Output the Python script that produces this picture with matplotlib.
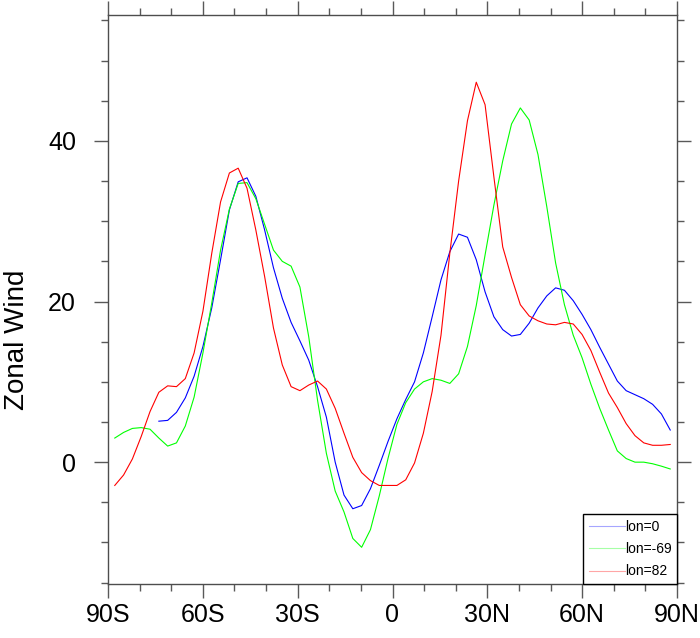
import numpy as np
import matplotlib.pyplot as plt
import matplotlib as mpl
from matplotlib.lines import Line2D

plt.rcParams["font.family"] = ["Liberation Sans", "DejaVu Sans"]

# T42 gaussian latitudes (64 rows)
lat = np.linspace(-87.86, 87.86, 64)

nan = np.nan
u_lon0 = [nan, nan, nan, nan, nan,
	5.1, 5.2, 6.2, 8.0, 10.7, 14.4, 19.2, 25.2, 31.4, 34.9,
	35.4, 33.1, 28.9, 24.2, 20.4, 17.4, 15.1, 12.7, 9.4, 5.6,
	0.0, -4.1, -5.8, -5.4, -3.3, -0.4, 2.6, 5.4, 7.8, 10.0,
	13.6, 18.1, 22.7, 26.2, 28.4, 28.0, 25.2, 21.2, 18.1, 16.5,
	15.7, 15.9, 17.3, 19.2, 20.7, 21.7, 21.4, 20.1, 18.4, 16.5,
	14.3, 12.2, 10.1, 8.9, 8.4, 7.9, 7.2, 6.0, 4.0]
u_lon_69 = [3.0, 3.7, 4.2, 4.3, 4.1, 3.0, 2.0, 2.4, 4.5, 8.1,
	13.6, 19.8, 26.4, 31.5, 34.7, 34.8, 32.8, 29.6, 26.4, 25.0,
	24.4, 21.8, 15.6, 7.7, 1.1, -3.6, -6.2, -9.5, -10.6, -8.4,
	-4.2, 0.5, 4.7, 7.4, 9.1, 10.0, 10.4, 10.2, 9.8, 11.0,
	14.4, 19.5, 25.8, 32.0, 37.5, 42.1, 44.1, 42.6, 38.3, 31.8,
	24.8, 19.6, 15.8, 13.0, 9.7, 6.7, 4.0, 1.4, 0.45, 0.0,
	0.0, -0.2, -0.5, -0.85]
u_lon82 = [-2.9, -1.6, 0.4, 3.2, 6.3, 8.7, 9.5, 9.4, 10.4, 13.6,
	18.8, 26.0, 32.4, 36.0, 36.6, 34.1, 28.9, 23.1, 16.7, 12.1,
	9.4, 8.9, 9.6, 10.1, 9.1, 6.7, 3.6, 0.6, -1.3, -2.3,
	-2.9, -2.9, -2.9, -2.2, -0.1, 3.6, 8.8, 15.8, 26.0, 35.0,
	42.5, 47.3, 44.5, 35.5, 26.8, 23.0, 19.6, 18.2, 17.6, 17.2,
	17.1, 17.4, 17.2, 15.9, 13.9, 11.2, 8.6, 6.8, 4.8, 3.3,
	2.4, 2.1, 2.1, 2.2]

labels = ["lon=0", "lon=-69", "lon=82"]
colors = ["#0000ff", "#00ff00", "#ff0000"]

xticks = [-90, -60, -30, 0, 30, 60, 90]
xticklabels = ["90S", "60S", "30S", "0", "30N", "60N", "90N"]

fig = plt.figure(figsize=(7.0, 6.38), dpi=100)
ax = fig.add_axes([108/700, 1-584/638, 569/700, 569/638])

for y, c in zip([u_lon0, u_lon_69, u_lon82], colors):
	ax.plot(lat, y, color=c, lw=0.8)

ax.set_xlim(-90, 90)
ax.set_ylim(-15.17, 55.67)
ax.set_xticks(xticks)
ax.set_xticklabels(xticklabels)
ax.set_xticks(np.arange(-80, 90, 10), minor=True)
ax.set_yticks([0, 20, 40])
ax.set_yticks(np.arange(-15, 56, 5), minor=True)

for s in ax.spines.values():
	s.set_color("0.3")
	s.set_linewidth(1.0)
ax.tick_params(which="both", direction="out", top=True, right=True,
	color="0.35", width=1.0, labelsize=18)
ax.tick_params(which="major", length=10)
ax.tick_params(which="minor", length=5)
ax.tick_params(axis="y", which="major", pad=13)
ax.tick_params(axis="x", which="major", pad=4)

ax.set_ylabel("Zonal Wind", fontsize=20)
ax.yaxis.set_label_coords(-0.137, 0.43)

handles = [Line2D([], [], color=c, lw=0.8, alpha=0.35) for c in colors]
leg = ax.legend(handles, labels, loc="lower right", bbox_to_anchor=(1, 0),
	borderaxespad=0, fancybox=False, framealpha=1, edgecolor="black",
	fontsize=10, handlelength=2.6, handletextpad=0.0, labelspacing=0.6,
	borderpad=0.4)
leg.get_frame().set_linewidth(1.0)

fig.savefig("out.png", dpi=100)
